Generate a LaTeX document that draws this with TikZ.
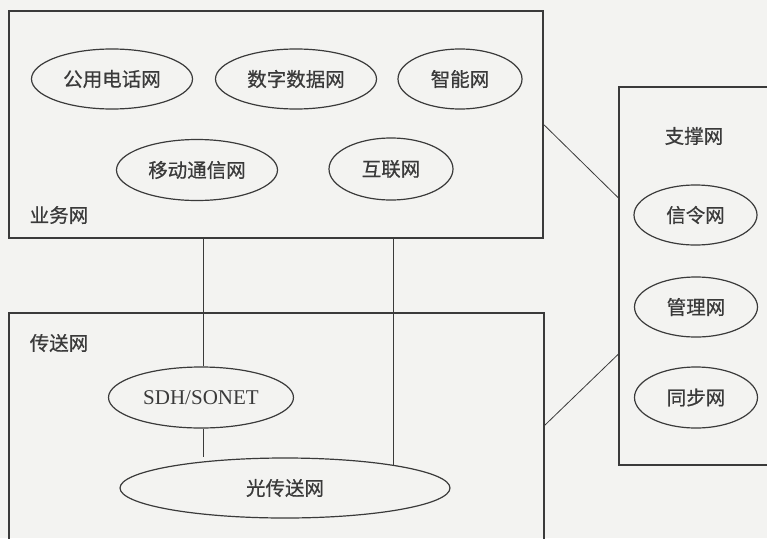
\documentclass[tikz,border=0pt]{standalone}
\usepackage{fontspec}
\setmainfont{Liberation Serif}
\newfontfamily\cjk[FakeBold=0.6]{Noto Sans CJK SC}
\usetikzlibrary{shapes.geometric,calc}
\definecolor{ink}{HTML}{3A3A3A}
\definecolor{paper}{HTML}{F3F3F1}
\tikzset{
  netbox/.style={draw=ink, line width=1.3pt, rectangle, inner sep=0pt},
  netell/.style={draw=ink, line width=1.2pt, ellipse, inner sep=0pt, text=ink,
    font=\cjk\fontsize{19.5}{21}\selectfont},
  boxlabel/.style={text=ink, inner sep=0pt, font=\cjk\fontsize{19.5}{21}\selectfont},
  link/.style={draw=ink, line width=0.8pt}
}
\begin{document}
\begin{tikzpicture}[x=1pt,y=-1pt]
\useasboundingbox (0,0) rectangle (767,538);
\fill[paper] (0,0) rectangle (767,538);
\begin{scope}
\clip (0,0) rectangle (767,538);
% boxes
\node[netbox, minimum width=534pt, minimum height=227pt] (yw) at (276,124.5) {};
\node[netbox, minimum width=535pt, minimum height=260pt] (cs) at (276.5,443) {};
\node[netbox, minimum width=170pt, minimum height=378pt] (zc) at (704,276) {};
% labels
\node[boxlabel] (ywl) at (59,215) {业务网};
\node[boxlabel] (csl) at (59,343) {传送网};
\node[boxlabel] (zcl) at (694,136) {支撑网};
% business ellipses
\node[netell, minimum width=161pt, minimum height=60pt] (gy) at (112,79) {公用电话网};
\node[netell, minimum width=161pt, minimum height=60pt] (sz) at (296,79) {数字数据网};
\node[netell, minimum width=124pt, minimum height=60pt] (zn) at (460,79) {智能网};
\node[netell, minimum width=161pt, minimum height=61pt] (yd) at (197,170) {移动通信网};
\node[netell, minimum width=124pt, minimum height=62pt] (hl) at (391,169) {互联网};
% transport ellipses
\node[netell, minimum width=185pt, minimum height=61pt, font=\fontsize{21}{23}\selectfont] (sdh) at (201,397.5) {SDH/SONET};
\node[netell, minimum width=330pt, minimum height=60pt] (otn) at (285,488) {光传送网};
% support ellipses
\node[netell, minimum width=123pt, minimum height=60pt] (xl) at (695.5,215) {信令网};
\node[netell, minimum width=123pt, minimum height=60pt] (gl) at (696,307) {管理网};
\node[netell, minimum width=123pt, minimum height=61pt] (tb) at (696,397.5) {同步网};
% connectors
\draw[link] ([xshift=2pt]sdh.north) -- ([xshift=2pt]sdh.north |- yw.south);
\draw[link] ([xshift=2pt]sdh.south) -- ([xshift=2pt]sdh.south |- otn.north);
\draw[link] (otn.12) -- (otn.12 |- yw.south);
\draw[link] (yw.east) -- ($(zc.north west)!0.294!(zc.south west)$);
\draw[link] ($(cs.north east)+(0,113)$) -- ($(zc.north west)!0.706!(zc.south west)$);
\end{scope}
\end{tikzpicture}
\end{document}
